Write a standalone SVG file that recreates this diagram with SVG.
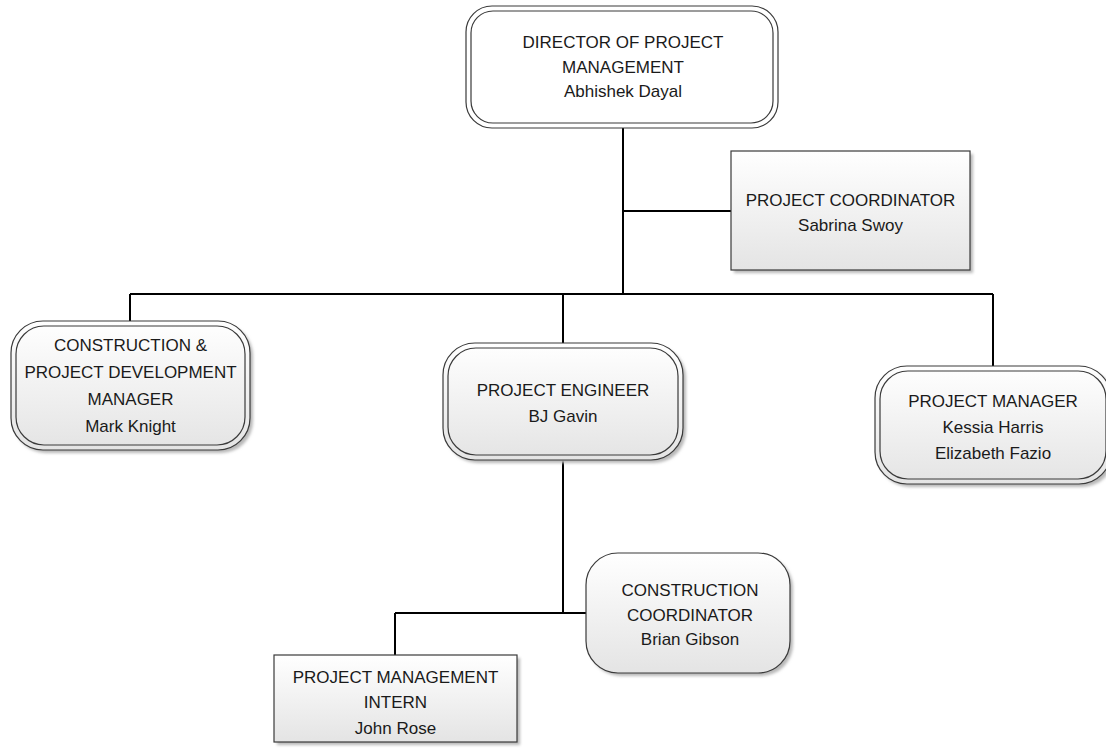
<svg xmlns="http://www.w3.org/2000/svg" width="1106" height="751" viewBox="0 0 1106 751">
<defs>
<linearGradient id="g" x1="0" y1="0" x2="0" y2="1">
<stop offset="0" stop-color="#ffffff"/>
<stop offset="1" stop-color="#e4e4e4"/>
</linearGradient>
<filter id="sh" x="-10%" y="-10%" width="130%" height="130%">
<feGaussianBlur stdDeviation="1.5"/>
</filter>
<style>
.o{fill:url(#g);stroke:#3a3a3a;stroke-width:1.2}
.w{fill:#ffffff;stroke:#3a3a3a;stroke-width:1.2}
.i{fill:none;stroke:#3a3a3a;stroke-width:1.2}
.s{fill:#b8b8b8;filter:url(#sh)}
.c{fill:none;stroke:#000;stroke-width:2}
text{font-family:"Liberation Sans",Arial,sans-serif;font-size:17px;fill:#1a1a1a;text-anchor:middle}
</style>
</defs>
<rect width="1106" height="751" fill="#ffffff"/>
<g id="connectors">
<path class="c" d="M623 128V294"/>
<path class="c" d="M623 211H731"/>
<path class="c" d="M130 294H993"/>
<path class="c" d="M130 294V321"/>
<path class="c" d="M563 294V343"/>
<path class="c" d="M993 294V366"/>
<path class="c" d="M563 460V613"/>
<path class="c" d="M395 613H586"/>
<path class="c" d="M395 613V655"/>
</g>
<g id="director">
<rect class="w" x="466" y="6" width="312" height="122" rx="26"/>
<rect class="i" x="471" y="11" width="302" height="112" rx="22"/>
<text x="623" y="48">DIRECTOR OF PROJECT</text>
<text x="623" y="73">MANAGEMENT</text>
<text x="623" y="97">Abhishek Dayal</text>
</g>
<g id="project-coordinator">
<rect class="s" x="734" y="154" width="239" height="119"/>
<rect class="o" x="731" y="151" width="239" height="119"/>
<text x="850.5" y="206">PROJECT COORDINATOR</text>
<text x="850.5" y="231">Sabrina Swoy</text>
</g>
<g id="construction-project-development-manager">
<rect class="s" x="14" y="324" width="239" height="129" rx="32"/>
<rect class="o" x="11" y="321" width="239" height="129" rx="32"/>
<rect class="i" x="16" y="326" width="229" height="119" rx="28"/>
<text x="130.5" y="351">CONSTRUCTION &amp;</text>
<text x="130.5" y="378">PROJECT DEVELOPMENT</text>
<text x="130.5" y="405">MANAGER</text>
<text x="130.5" y="432">Mark Knight</text>
</g>
<g id="project-engineer">
<rect class="s" x="446" y="346" width="240" height="117" rx="32"/>
<rect class="o" x="443" y="343" width="240" height="117" rx="32"/>
<rect class="i" x="448" y="348" width="230" height="107" rx="28"/>
<text x="563" y="396">PROJECT ENGINEER</text>
<text x="563" y="422">BJ Gavin</text>
</g>
<g id="project-manager">
<rect class="s" x="878" y="369" width="236" height="118" rx="32"/>
<rect class="o" x="875" y="366" width="236" height="118" rx="32"/>
<rect class="i" x="880" y="371" width="226" height="108" rx="28"/>
<text x="993" y="407">PROJECT MANAGER</text>
<text x="993" y="433">Kessia Harris</text>
<text x="993" y="459">Elizabeth Fazio</text>
</g>
<g id="construction-coordinator">
<rect class="s" x="589" y="556" width="204" height="120" rx="32"/>
<rect class="o" x="586" y="553" width="204" height="120" rx="32"/>
<text x="690" y="596">CONSTRUCTION</text>
<text x="690" y="621">COORDINATOR</text>
<text x="690" y="645">Brian Gibson</text>
</g>
<g id="project-management-intern">
<rect class="s" x="277" y="658" width="243" height="87"/>
<rect class="o" x="274" y="655" width="243" height="87"/>
<text x="395.5" y="683">PROJECT MANAGEMENT</text>
<text x="395.5" y="708">INTERN</text>
<text x="395.5" y="734">John Rose</text>
</g>
</svg>
